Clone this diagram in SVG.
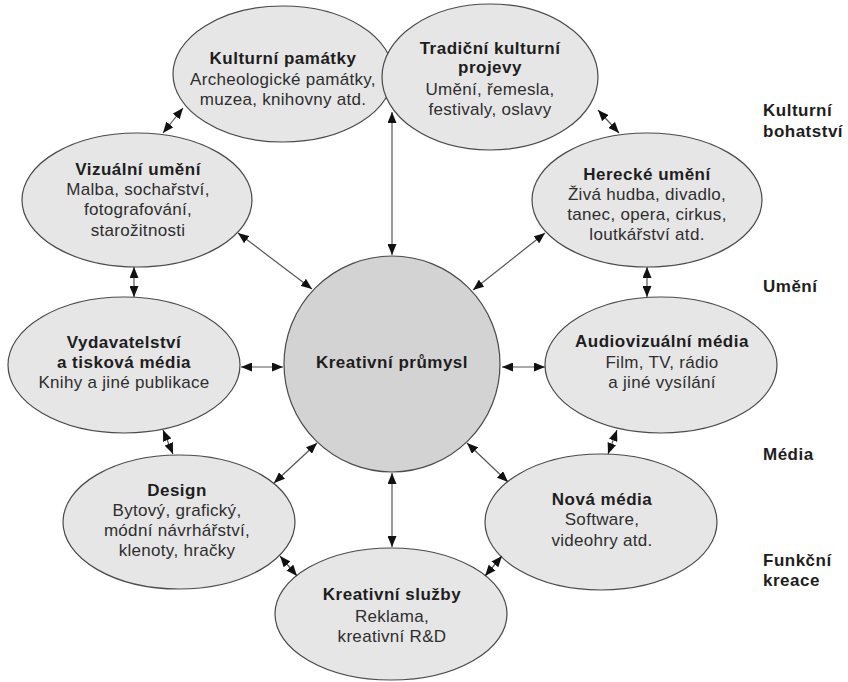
<svg xmlns="http://www.w3.org/2000/svg" width="848" height="682" viewBox="0 0 848 682">
  <style>
    .node { fill: #e6e6e6; stroke: #4a4a4a; stroke-width: 1.2; }
    .hub { fill: #d3d3d3; stroke: #4a4a4a; stroke-width: 1.2; }
    text { font-family: "Liberation Sans", Arial, sans-serif; font-size: 17px; fill: #2e2e2e; text-anchor: middle; }
    .t { font-weight: bold; fill: #1e1e1e; letter-spacing: 0.5px; }
    .d { letter-spacing: 0.3px; }
    .side { font-weight: bold; text-anchor: start; fill: #1e1e1e; letter-spacing: 0.5px; }
    .link { stroke: #555555; stroke-width: 1.2; fill: none; marker-start: url(#head); marker-end: url(#head); }
  </style>
  <defs>
    <marker id="head" viewBox="0 0 11 9" refX="11" refY="4.5" markerWidth="11" markerHeight="9" markerUnits="userSpaceOnUse" orient="auto-start-reverse">
      <path d="M0,0 L11,4.5 L0,9 z" fill="#111"/>
    </marker>
  </defs>

  <rect width="848" height="682" fill="#ffffff"/>

  <!-- nodes -->
  <g id="kulturni-pamatky">
    <ellipse class="node" cx="283" cy="74" rx="110" ry="68"/>
    <text class="t" x="283" y="64">Kulturní památky</text>
    <text class="d" x="283" y="85">Archeologické památky,</text>
    <text class="d" x="283" y="105">muzea, knihovny atd.</text>
  </g>

  <g id="tradicni-projevy">
    <ellipse class="node" cx="490" cy="77" rx="108" ry="73"/>
    <text class="t" x="490" y="54">Tradiční kulturní</text>
    <text class="t" x="490" y="73">projevy</text>
    <text class="d" x="490" y="95">Umění, řemesla,</text>
    <text class="d" x="490" y="115">festivaly, oslavy</text>
  </g>

  <g id="vizualni-umeni">
    <ellipse class="node" cx="137" cy="200" rx="115" ry="67"/>
    <text class="t" x="138" y="175">Vizuální umění</text>
    <text class="d" x="138" y="195">Malba, sochařství,</text>
    <text class="d" x="138" y="215">fotografování,</text>
    <text class="d" x="138" y="236">starožitnosti</text>
  </g>

  <g id="herecke-umeni">
    <ellipse class="node" cx="647" cy="200" rx="115" ry="67"/>
    <text class="t" x="647" y="180">Herecké umění</text>
    <text class="d" x="647" y="200">Živá hudba, divadlo,</text>
    <text class="d" x="647" y="220">tanec, opera, cirkus,</text>
    <text class="d" x="647" y="240">loutkářství atd.</text>
  </g>

  <g id="vydavatelstvi">
    <ellipse class="node" cx="124" cy="365" rx="116" ry="68"/>
    <text class="t" x="124" y="348">Vydavatelství</text>
    <text class="t" x="124" y="368">a tisková média</text>
    <text class="d" x="124" y="388">Knihy a jiné publikace</text>
  </g>

  <g id="kreativni-prumysl">
    <ellipse class="hub" cx="392" cy="364" rx="108" ry="108"/>
    <text class="t" x="392" y="368">Kreativní průmysl</text>
  </g>

  <g id="audiovizualni-media">
    <ellipse class="node" cx="661" cy="365" rx="116" ry="68"/>
    <text class="t" x="662" y="347">Audiovizuální média</text>
    <text class="d" x="662" y="368">Film, TV, rádio</text>
    <text class="d" x="662" y="388">a jiné vysílání</text>
  </g>

  <g id="design">
    <ellipse class="node" cx="179" cy="522" rx="116" ry="67"/>
    <text class="t" x="177" y="496">Design</text>
    <text class="d" x="177" y="516">Bytový, grafický,</text>
    <text class="d" x="177" y="536">módní návrhářství,</text>
    <text class="d" x="177" y="556">klenoty, hračky</text>
  </g>

  <g id="nova-media">
    <ellipse class="node" cx="601" cy="522" rx="116" ry="68"/>
    <text class="t" x="602" y="505">Nová média</text>
    <text class="d" x="602" y="525">Software,</text>
    <text class="d" x="602" y="546">videohry atd.</text>
  </g>

  <g id="kreativni-sluzby">
    <ellipse class="node" cx="391" cy="614" rx="116" ry="66"/>
    <text class="t" x="392" y="600">Kreativní služby</text>
    <text class="d" x="392" y="622">Reklama,</text>
    <text class="d" x="392" y="642">kreativní R&amp;D</text>
  </g>

  <!-- category labels on the right -->
  <g id="categories">
    <text class="side" x="763" y="116">Kulturní</text>
    <text class="side" x="763" y="137">bohatství</text>
    <text class="side" x="763" y="292">Umění</text>
    <text class="side" x="763" y="460">Média</text>
    <text class="side" x="763" y="566">Funkční</text>
    <text class="side" x="763" y="586">kreace</text>
  </g>

  <!-- connectors -->
  <g id="connectors">
    <line class="link" x1="163" y1="133" x2="183" y2="108"/>
    <line class="link" x1="598" y1="110" x2="619" y2="133"/>
    <line class="link" x1="134" y1="267" x2="134" y2="297"/>
    <line class="link" x1="647" y1="267" x2="647" y2="297"/>
    <line class="link" x1="241" y1="367" x2="283" y2="367"/>
    <line class="link" x1="502" y1="367" x2="545" y2="367"/>
    <line class="link" x1="163" y1="430" x2="173" y2="454"/>
    <line class="link" x1="617" y1="430" x2="608" y2="454"/>
    <line class="link" x1="274" y1="483" x2="317" y2="443"/>
    <line class="link" x1="467" y1="443" x2="508" y2="482"/>
    <line class="link" x1="280" y1="556" x2="297" y2="576"/>
    <line class="link" x1="502" y1="556" x2="485" y2="576"/>
    <line class="link" x1="392" y1="473" x2="392" y2="547"/>
    <line class="link" x1="392" y1="112" x2="392" y2="255"/>
    <line class="link" x1="238" y1="233" x2="312" y2="289"/>
    <line class="link" x1="545" y1="233" x2="473" y2="290"/>
  </g>
</svg>
